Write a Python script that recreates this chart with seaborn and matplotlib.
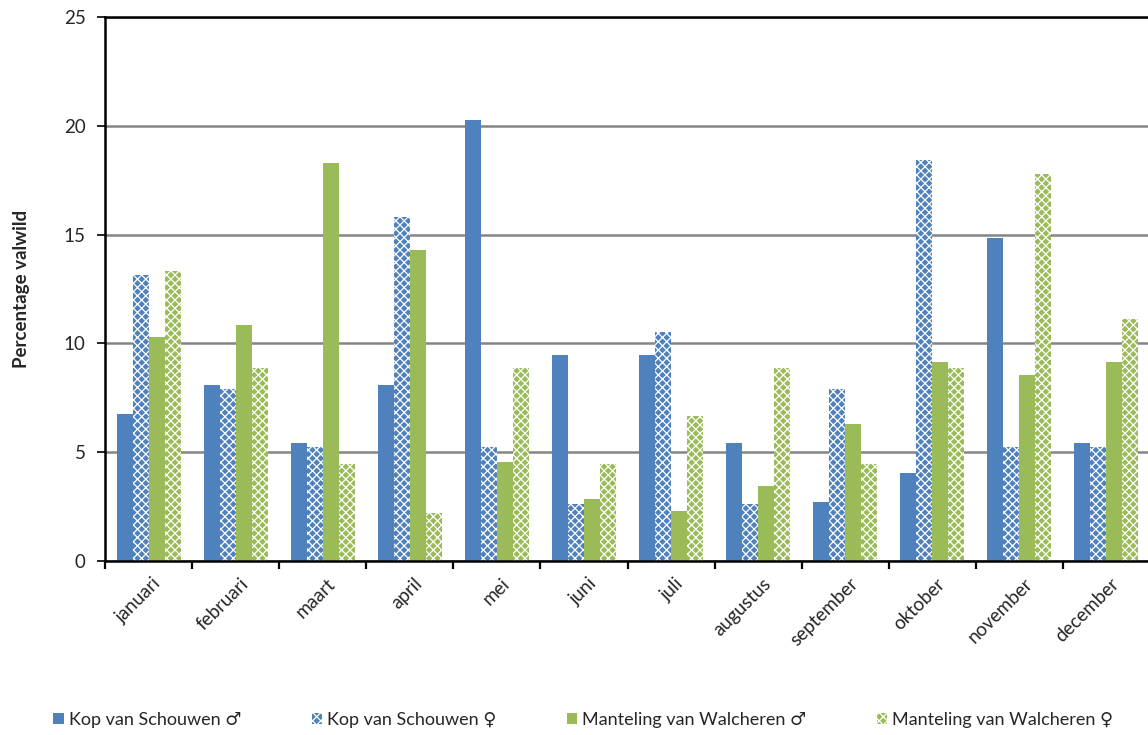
import matplotlib
matplotlib.use("Agg")
import matplotlib.pyplot as plt
import numpy as np
import pandas as pd
import seaborn as sns

# Maandelijkse verdeling van valwild (%)
maanden = ["januari", "februari", "maart", "april", "mei", "juni", "juli",
           "augustus", "september", "oktober", "november", "december"]
reeksen = ["Kop van Schouwen \u2642", "Kop van Schouwen \u2640",
           "Manteling van Walcheren \u2642", "Manteling van Walcheren \u2640"]

kvs_man = [6.76, 8.11, 5.41, 8.11, 20.27, 9.46, 9.46, 5.41, 2.70, 4.05, 14.86, 5.41]
kvs_vrouw = [13.16, 7.89, 5.26, 15.79, 5.26, 2.63, 10.53, 2.63, 7.89, 18.42, 5.26, 5.26]
mvw_man = [10.29, 10.86, 18.29, 14.29, 4.57, 2.86, 2.29, 3.43, 6.29, 9.14, 8.57, 9.14]
mvw_vrouw = [13.33, 8.89, 4.44, 2.22, 8.89, 4.44, 6.67, 8.89, 4.44, 8.89, 17.78, 11.11]

blauw = "#4F81BD"
groen = "#9BBB59"
kleuren = [blauw, blauw, groen, groen]
patroon = [None, "xxxx", None, "xxxx"]

df = pd.DataFrame({
    "maand": maanden * 4,
    "reeks": np.repeat(reeksen, len(maanden)),
    "pct": kvs_man + kvs_vrouw + mvw_man + mvw_vrouw,
})

sns.set_style("white")
fonts = ["Lato", "DejaVu Sans"]
plt.rcParams["font.family"] = fonts
plt.rcParams["hatch.linewidth"] = 0.9

fig = plt.figure(figsize=(11.48, 7.35), dpi=100)
ax = fig.add_axes([105 / 1148, 1 - 561 / 735, 1045 / 1148, (561 - 17) / 735])

sns.barplot(data=df, x="maand", y="pct", hue="reeks", order=maanden,
            hue_order=reeksen, palette=kleuren, width=0.735, ax=ax,
            legend=False, errorbar=None, saturation=1)

for cont, hatch in zip(ax.containers, patroon):
    for bar in cont:
        bar.set_linewidth(0)
        if hatch:
            bar.set_hatch(hatch)
            bar.set_edgecolor("white")

ax.set_ylim(0, 25)
ax.set_xlim(-0.5, 11.5)
ax.set_yticks([0, 5, 10, 15, 20, 25])
ax.yaxis.grid(True, color="#858585", linewidth=1.8)
ax.set_axisbelow(True)

for side in ["left", "bottom", "top"]:
    ax.spines[side].set_visible(True)
    ax.spines[side].set_color("black")
    ax.spines[side].set_linewidth(1.8)
ax.spines["right"].set_visible(False)

ax.tick_params(axis="y", which="major", direction="out", length=6, width=1.2,
               color="black", left=True, labelsize=13.5, pad=8)
ax.set_xticks(np.arange(len(maanden)))
ax.set_xticks(np.arange(len(maanden) + 1) - 0.5, minor=True)
ax.tick_params(axis="x", which="major", length=0, pad=10)
ax.tick_params(axis="x", which="minor", direction="out", length=6, width=1.6,
               color="black", bottom=True)
ax.set_xticklabels(maanden, rotation=45, ha="right", rotation_mode="anchor",
                   fontsize=13.5)
for lbl in ax.get_xticklabels():
    lbl.set_transform(lbl.get_transform() +
                      matplotlib.transforms.ScaledTranslation(0.04, 0, fig.dpi_scale_trans))

ax.set_xlabel("")
ax.set_ylabel("Percentage valwild", fontsize=13.5, fontweight="bold", labelpad=24)

handles = []
for kleur, hatch, naam in zip(kleuren, patroon, reeksen):
    p = matplotlib.patches.Patch(facecolor=kleur, edgecolor="white" if hatch else kleur,
                                 hatch=hatch, linewidth=0, label=naam)
    handles.append(p)
fig.legend(handles=handles, loc="center", bbox_to_anchor=(0.508, 0.0204),
           ncol=4, frameon=False, handlelength=0.6,
           handleheight=0.6, handletextpad=0.25, columnspacing=3.9,
           prop={"family": fonts, "size": 13})

fig.savefig("out.png", dpi=100)
